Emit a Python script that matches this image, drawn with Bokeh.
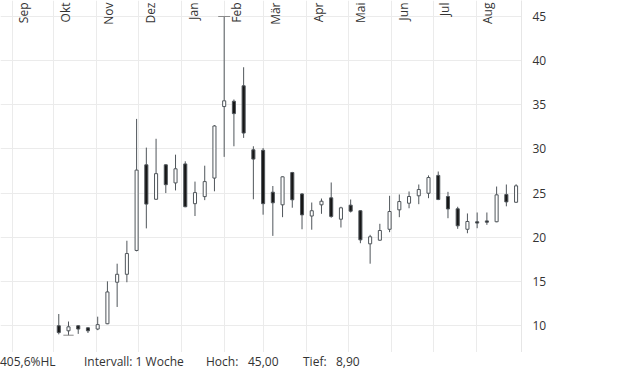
import numpy as np
import pandas as pd
from bokeh.plotting import figure
from bokeh.layouts import column
from bokeh.models import ColumnDataSource, Range1d, FixedTicker, Div
from bokeh.core.properties import value
from bokeh.embed import file_html
from bokeh.resources import INLINE

# ---------------- data ----------------
months = ["Sep", "Okt", "Nov", "Dez", "Jan", "Feb", "Mär", "Apr", "Mai", "Jun", "Jul", "Aug"]
month_dates = pd.date_range("2022-09-01", periods=12, freq="MS")
dates = pd.date_range("2022-10-04 12:00", periods=48, freq="7D")

opens = [9.97, 9.4, 9.97, 9.74, 9.6, 10.2, 14.9, 15.8, 18.5, 28.2, 24.3, 28.2,
         26.15, 28.3, 23.8, 24.6, 26.7, 34.8, 35.4, 37.15, 29.9, 29.85, 25.1, 23.67,
         27.33, 24.9, 22.4, 23.67, 24.46, 22.04, 23.63, 23.0, 19.25, 19.66, 20.9, 23.1,
         23.85, 24.69, 24.98, 27.0, 24.61, 23.22, 20.9, 21.75, 21.85, 21.75, 24.84, 23.96]
highs = [11.3, 10.45, 10.0, 9.78, 11.0, 15.0, 17.0, 19.6, 33.4, 30.15, 31.15, 28.25,
         29.35, 28.6, 26.3, 28.1, 32.7, 45.0, 35.6, 39.25, 30.3, 30.1, 25.8, 26.9,
         27.4, 25.0, 23.93, 24.38, 26.2, 23.45, 24.27, 23.05, 20.27, 21.52, 24.69, 24.84,
         25.18, 25.97, 27.0, 27.44, 25.14, 23.45, 22.69, 22.8, 22.8, 25.74, 25.97, 26.0]
lows = [9.0, 8.9, 9.05, 9.15, 9.47, 10.15, 12.1, 14.9, 18.4, 21.0, 24.25, 25.0,
        25.3, 23.4, 22.4, 24.2, 25.2, 29.1, 30.3, 31.25, 24.3, 22.55, 20.15, 22.27,
        23.34, 20.9, 20.85, 22.65, 22.2, 21.1, 22.8, 19.32, 17.0, 19.6, 20.57, 22.27,
        23.28, 23.74, 24.42, 24.2, 22.15, 20.95, 20.45, 21.02, 21.4, 21.7, 23.5, 23.9]
closes = [9.2, 9.85, 9.6, 9.4, 10.1, 13.8, 15.8, 18.15, 27.6, 23.75, 27.2, 25.95,
          27.75, 23.45, 25.05, 26.3, 32.6, 35.45, 34.0, 31.8, 28.85, 23.8, 23.9, 26.84,
          24.24, 22.53, 23.0, 24.08, 22.35, 23.33, 22.95, 19.7, 20.05, 20.76, 22.91, 24.04,
          24.61, 25.4, 26.76, 24.27, 23.2, 21.29, 21.78, 21.6, 21.7, 24.8, 24.0, 25.82]
y_ticks = [10, 15, 20, 25, 30, 35, 40, 45]
info_texts = ["405,6%HL", "Intervall: 1 Woche", "Hoch:", "45,00", "Tief:", "8,90"]

# ---------------- styling ----------------
FONT = "Open Sans"
TXT = "#333333"
EDGE = "#50565b"
DOWN = "#161616"
GRID = "#ebebeb"
DAY = pd.Timedelta(days=1)

x_start = pd.Timestamp("2022-09-01") - 8.42 * DAY
x_end = x_start + 374.82 * DAY
y_top = 46.812
y_bot = 6.942

p = figure(width=604, height=352, x_axis_type="datetime", x_axis_location=None,
           y_axis_location="right",
           x_range=Range1d(x_start, x_end), y_range=Range1d(y_bot, y_top),
           output_backend="svg", toolbar_location=None,
           min_border_left=0, min_border_top=0, min_border_right=83, min_border_bottom=0)
p.outline_line_color = None
p.background_fill_color = "white"
p.border_fill_color = "white"

p.xgrid.ticker = FixedTicker(ticks=[int(d.value // 10**6) for d in month_dates])
p.xgrid.grid_line_color = GRID
p.ygrid.grid_line_color = GRID

ax = p.yaxis[0]
ax.ticker = FixedTicker(ticks=y_ticks)
ax.major_tick_line_color = None
ax.minor_tick_line_color = None
ax.axis_line_color = "#e6e6e6"
ax.major_label_text_font = FONT
ax.major_label_text_font_size = "12px"
ax.major_label_text_color = TXT
ax.major_label_standoff = 5

o = np.array(opens); c = np.array(closes)
src = ColumnDataSource(dict(
    x=dates, high=highs, low=lows,
    top=np.maximum(o, c), bottom=np.minimum(o, c),
    fill=np.where(c >= o, "white", DOWN),
))
p.segment(x0="x", y0="low", x1="x", y1="high", source=src, line_color=EDGE, line_width=1)
p.vbar(x="x", width=2.2 * 86400000, top="top", bottom="bottom", fill_color="fill",
       line_color=EDGE, line_width=1, source=src)

# high / low markers
ih = int(np.argmax(highs)); il = int(np.argmin(lows))
mk = ColumnDataSource(dict(
    x0=[dates[ih] - 4.3 * DAY, dates[il] - 3.7 * DAY],
    x1=[dates[ih] + 4.3 * DAY, dates[il] + 3.7 * DAY],
    y=[highs[ih], lows[il]],
))
p.segment(x0="x0", y0="y", x1="x1", y1="y", source=mk, line_color="#8a8a8a", line_width=1)

# month labels
msrc = ColumnDataSource(dict(x=month_dates, y=[y_top] * 12, t=months))
p.text(x="x", y="y", text="t", source=msrc, angle=np.pi / 2, text_align="right",
       text_baseline="top", x_offset=3, y_offset=2, text_font=value(FONT),
       text_font_size="12px", text_color=TXT)

# bottom info line
info_x = [0, 84, 206, 248, 303, 336]
spans = "".join(
    f'<span style="position:absolute;left:{sx}px;top:2px;white-space:nowrap">{tx}</span>'
    for tx, sx in zip(info_texts, info_x))
info = Div(text=f'<div style="position:relative;width:604px;height:20px;'
                f'font-family:\'Open Sans\';font-size:12px;line-height:16px;color:{TXT}">{spans}</div>',
           width=604, height=20, margin=0)

layout = column(p, info, spacing=0)
open("out.html", "w").write(file_html(layout, INLINE))
